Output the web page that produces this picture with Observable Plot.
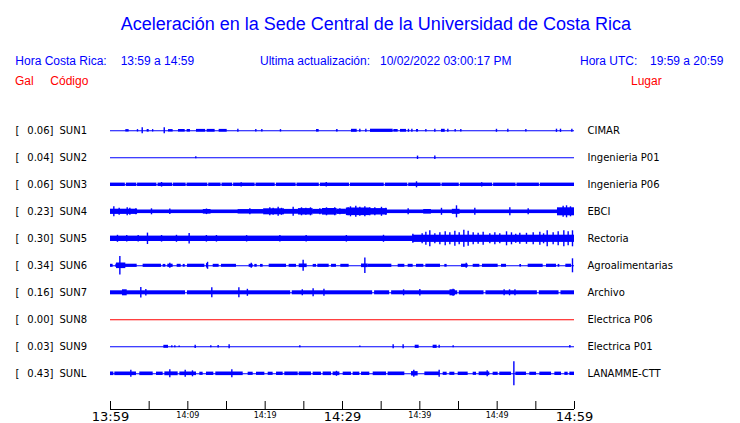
<!DOCTYPE html>
<html>
<head>
<meta charset="utf-8">
<script src="https://cdn.jsdelivr.net/npm/d3@7"></script>
<script src="https://cdn.jsdelivr.net/npm/@observablehq/plot@0.6"></script>
<style>
  body { margin: 0; background: #fff; }
  #wrap { position: relative; width: 740px; height: 423px; overflow: hidden; background: #fff; }
  #head { position: relative; width: 740px; height: 100px; font-family: "Liberation Sans", Arial, sans-serif; }
  #head span { position: absolute; white-space: pre; font-size: 12px; line-height: 12px; }
  #head .b { color: #0000ff; }
  #head .r { color: #ff0000; }
  #head #title { font-size: 18px; line-height: 18px; }
  #chart svg { display: block; }
</style>
</head>
<body>
<div id="wrap">
  <div id="head">
    <span id="title" class="b" style="left:120.7px; top:14.5px">Aceleración en la Sede Central de la Universidad de Costa Rica</span>
    <span class="b" style="left:15.3px; top:54.8px">Hora Costa Rica:</span>
    <span class="b" style="left:120.7px; top:54.8px">13:59 a 14:59</span>
    <span class="b" style="left:260px; top:54.8px">Ultima actualización:</span>
    <span class="b" style="left:380px; top:54.8px">10/02/2022 03:00:17 PM</span>
    <span class="b" style="left:580px; top:54.8px">Hora UTC:</span>
    <span class="b" style="left:650px; top:54.8px">19:59 a 20:59</span>
    <span class="r" style="left:15px; top:74.8px">Gal</span>
    <span class="r" style="left:50.3px; top:74.8px">Código</span>
    <span class="r" style="left:631px; top:74.8px">Lugar</span>
  </div>
  <div id="chart"></div>
</div>
<script>
// ---- Data ----
const stations = ["SUN1","SUN2","SUN3","SUN4","SUN5","SUN6","SUN7","SUN8","SUN9","SUNL"];
const galValues = [0.06, 0.04, 0.06, 0.23, 0.30, 0.34, 0.16, 0.00, 0.03, 0.43];
const places = ["CIMAR","Ingenieria P01","Ingenieria P06","EBCI","Rectoria","Agroalimentarias","Archivo","Electrica P06","Electrica P01","LANAMME-CTT"];
const traceColors = ["blue","blue","blue","blue","blue","blue","blue","red","blue","blue"];

// time axis (minutes after 13:59)
const tickMinutes = [0,5,10,15,20,25,30,35,40,45,50,55,60];
const labelMinutes = [0,10,20,30,40,50,60];
const tickLabels = ["13:59","14:09","14:19","14:29","14:39","14:49","14:59"];
const majorLabels = ["13:59","14:29","14:59"];

// Trace envelopes: bursts [startMinute, endMinute, halfAmplitude], spikes [minute, halfAmplitude]
const sun1Bursts = [[1.98,2.41,1.2],[4.74,5.0,1.3],[5.43,5.6,1.2],[7.5,8.1,1.2],[8.79,9.66,1.3],[9.91,10.34,1.3],[11.12,12.3,1.4],[12.5,13.53,1.4],[14.05,15.09,1.4],[26.64,26.98,1.3],[29.22,29.44,1.2],[31.16,31.9,1.5],[33.62,36.55,1.6],[36.64,37.2,1.3],[37.5,38.28,1.4],[39.57,39.83,1.3],[42.8,43.28,1.5]];
const sun1Spikes = [[3.49,1.2],[4.1,3],[6.95,3],[16.47,1.5],[18.79,1.2],[19.57,1.3],[21.98,1.2],[32.24,1.5],[33.02,1.5],[38.53,1.5],[38.97,1.5],[40.78,1.3],[41.94,1.5],[43.62,1.5],[44.57,1.2],[45.3,1.2],[49.91,1.5],[51.38,1.5],[53.71,1.2],[57.67,1.6],[58.19,1.6],[59.66,1.5]];

const sun2Bursts = [];
const sun2Spikes = [[11.03,1],[39.7,1.7],[41.94,1.7]];

const sun3Bursts = [[0,1.92,1.7],[2.05,3.4,1.7],[3.5,6.0,1.7],[6.15,8.05,1.7],[8.15,9.78,1.7],[9.9,12.58,1.7],[12.7,14.3,1.7],[14.42,15.8,1.7],[15.92,18.7,1.7],[18.82,21.3,1.7],[21.45,24.0,1.7],[24.12,27.0,1.7],[27.14,30.9,1.7],[31.02,35.4,1.7],[35.54,38.44,1.7],[38.56,42.75,1.7],[42.87,45.1,1.7],[45.24,49.42,1.7],[49.54,52.44,1.7],[52.56,55.46,1.7],[55.58,60,1.7]];
const sun3Spikes = [[39.57,3.0],[6.6,2.3],[27.9,2.2],[16.9,2.1],[48.0,2.1]];

const sun4Bursts = [[0,60,1.8],[0,3.5,2.6],[12.0,13.0,2.3],[16.5,19.8,2.2],[19.8,22.5,3.0],[22.5,24.3,2.4],[24.3,26.2,3.2],[26.2,27.4,2.4],[27.4,29.3,3.3],[29.3,30.5,2.6],[30.5,33.6,3.8],[33.6,35.8,3.2],[40.5,41.5,2.3],[44.2,45.2,2.5],[57.8,60,4.0]];
const sun4Spikes = [[0.43,5],[1.12,3.5],[2.16,4],[2.5,3.5],[3.28,3],[5.3,3],[7.67,2.8],[12.41,2.8],[18.02,3],[20.6,4],[21.03,3.5],[21.68,4.5],[22.11,3.5],[23.62,4.5],[24.7,4],[25.26,3.5],[25.86,4],[27.07,3],[27.93,4],[29.0,4],[29.66,3],[30.73,4],[31.03,5],[31.72,5.5],[32.24,4.5],[32.89,5],[33.53,4],[34.18,4],[35.04,4.5],[35.6,3.5],[38.49,3],[42.8,3.5],[44.74,6],[47.11,3.5],[51.64,4],[54.01,3],[58.53,5.5],[58.97,6],[59.48,5]];

const sun5Bursts = [[0,60,2.7],[39.1,60,3.6]];
const sun5Spikes = [[0.9,3.5],[2.1,3.3],[3.58,3.3],[4.78,5.7],[6.6,3.3],[8.53,3.5],[10.17,5.3],[12.4,3.3],[13.7,3.3],[17.6,3.2],[21.9,3.2],[25.3,3.3],[30.5,3.3],[35.3,3.5],[39.1,4.5],[40.3,5],[40.78,6.5],[41.29,8],[41.94,5],[42.59,6],[43.28,7],[43.88,6],[44.53,7.5],[45.09,6],[45.69,8.5],[46.25,7.5],[46.9,6],[47.54,5.5],[48.19,6.5],[49.05,5],[49.7,6],[50.34,5],[51.21,7],[51.85,6],[52.4,4.5],[52.93,5.5],[53.79,5.5],[54.66,6],[55.52,6.5],[56.0,5],[56.47,8],[57.24,6],[57.89,7],[58.62,8],[59.18,7],[59.74,8]];

const sun6Bursts = [[0,0.34,1.5],[0.69,3.45,1.6],[0.78,1.98,2.8],[4.22,6.59,1.6],[6.81,7.16,1.4],[7.41,8.1,1.6],[8.62,9.14,1.5],[9.4,9.66,1.4],[9.96,12.2,1.6],[12.41,12.67,2.2],[13.28,14.05,1.5],[14.35,16.29,1.5],[17.93,18.45,1.5],[18.66,18.97,1.4],[19.4,19.74,1.4],[20.52,22.76,1.6],[23.1,24.05,1.5],[24.4,25.43,1.8],[26.21,26.64,1.4],[26.81,28.28,1.6],[28.58,29.22,1.5],[29.78,30.86,1.5],[32.46,33.32,1.8],[33.32,36.38,1.6],[37.2,38.06,1.5],[38.49,39.14,1.5],[39.57,40.52,1.5],[40.78,42.67,1.6],[43.23,43.53,1.4],[45.39,46.25,1.6],[46.9,47.76,1.5],[48.1,50.13,1.6],[50.56,51.21,1.5],[52.93,53.15,1.3],[54.01,55.95,1.6],[56.38,57.67,1.6],[57.89,58.1,1.4],[58.88,59.61,1.6]];
const sun6Spikes = [[1.21,9.3],[7.67,2.5],[12.55,3.5],[18.2,2.5],[24.91,5.5],[32.89,7.7],[46.0,2.5],[59.74,7.0]];

const sun7Bursts = [[0,9.7,2.0],[9.95,23.3,2.0],[23.5,33.9,2.0],[34.15,36.1,2.0],[36.35,44.9,2.0],[45.1,48.3,2.0],[48.55,55.2,2.0],[55.45,58.0,2.0],[58.25,60,2.0],[1.55,2.16,3.0],[43.9,44.6,3.0]];
const sun7Spikes = [[3.92,5.2],[4.57,3.2],[13.1,5],[16.6,5],[17.7,3.5],[24.8,3],[26.2,4],[27.6,3.5],[37.9,3],[40.0,3.2],[44.3,3.5],[50.9,3],[51.6,3],[52.3,3]];

const sun8Bursts = [];
const sun8Spikes = [];

const sun9Bursts = [[6.9,7.5,1.5],[39.4,39.91,1.6],[41.72,42.24,1.6]];
const sun9Spikes = [[7.93,1],[8.32,1],[8.88,0.8],[10.95,1.6],[12.97,1],[13.92,1.3],[15.34,2],[24.48,1],[32.24,0.8],[36.55,2],[37.84,2],[42.5,1.5],[44.31,1],[59.4,1.3]];

const sunLBursts = [[0,0.43,1.8],[0.56,3.36,1.8],[3.79,5.52,1.8],[5.95,6.81,1.7],[7.03,8.75,1.9],[8.97,11.12,1.8],[11.55,11.98,1.6],[12.41,13.36,1.7],[13.62,17.16,1.8],[17.8,18.45,1.6],[18.88,19.96,1.6],[20.39,21.03,1.6],[21.47,22.33,1.7],[22.54,24.27,1.8],[24.4,25.99,1.8],[26.21,27.28,1.7],[27.5,28.58,1.8],[28.79,29.66,1.8],[30.09,31.16,1.7],[31.38,32.24,1.7],[32.46,33.53,1.7],[33.97,35.69,1.8],[35.9,38.06,1.8],[38.92,39.78,2.2],[40.65,42.59,1.8],[43.02,43.53,1.6],[43.88,44.53,1.6],[44.96,46.25,1.7],[46.9,47.33,1.6],[47.67,49.05,1.8],[49.48,50.13,1.6],[50.34,51.85,1.7],[52.41,53.79,1.7],[54.22,55.09,1.6],[55.52,57.03,1.7],[57.46,58.32,1.7],[58.75,59.18,1.6],[59.4,60,1.7]];
const sunLSpikes = [[2.63,3.5],[7.67,4],[9.66,3.5],[10.6,3],[15.69,4],[29.22,2.5],[39.22,3.5],[42.5,3.5],[48.71,3],[52.16,12]];

const stationBursts = [sun1Bursts, sun2Bursts, sun3Bursts, sun4Bursts, sun5Bursts, sun6Bursts, sun7Bursts, sun8Bursts, sun9Bursts, sunLBursts];
const stationSpikes = [sun1Spikes, sun2Spikes, sun3Spikes, sun4Spikes, sun5Spikes, sun6Spikes, sun7Spikes, sun8Spikes, sun9Spikes, sunLSpikes];

// ---- Build tables ----
const ROW_UNITS = 27; // amplitude units between trace baselines
const rows = stations.map((s, i) => ({station: s, base: i * ROW_UNITS, gal: galValues[i], place: places[i], color: traceColors[i]}));
const bursts = rows.flatMap((r, i) => stationBursts[i].map(([t0, t1, a]) => ({...r, t0, t1, a})));
const spikes = rows.flatMap((r, i) => stationSpikes[i].map(([t, a]) => ({...r, t, a})));
const axisLabelRows = labelMinutes.map((m, i) => ({m, label: tickLabels[i], major: majorLabels.includes(tickLabels[i])}));

const font = "DejaVu Sans";
const chart = Plot.plot({
  width: 740,
  height: 323,
  marginLeft: 110,
  marginRight: 166,
  marginTop: 16.8,
  marginBottom: 14,
  x: {domain: [0, 60], axis: null},
  y: {domain: [-0.5 * ROW_UNITS, 10.322 * ROW_UNITS], reverse: true, axis: null},
  style: {background: "white", overflow: "visible"},
  marks: [
    Plot.ruleY(rows, {y: "base", stroke: "color", strokeWidth: 1.1}),
    Plot.rect(bursts, {x1: "t0", x2: "t1", y1: d => d.base - d.a, y2: d => d.base + d.a, fill: "color"}),
    Plot.ruleX(spikes, {x: "t", y1: d => d.base - d.a, y2: d => d.base + d.a, stroke: "color", strokeWidth: 1.4}),
    // left labels
    Plot.text(rows, {y: "base", text: () => "[", frameAnchor: "left", dx: -95, textAnchor: "start", fontFamily: font, fontSize: 10, fill: "black"}),
    Plot.text(rows, {y: "base", text: d => d.gal.toFixed(2) + "]", frameAnchor: "left", dx: -57, textAnchor: "end", fontFamily: font, fontSize: 10, fill: "black"}),
    Plot.text(rows, {y: "base", text: "station", frameAnchor: "left", dx: -51, textAnchor: "start", fontFamily: font, fontSize: 10, fill: "black"}),
    // right labels
    Plot.text(rows, {y: "base", text: "place", frameAnchor: "right", dx: 13, textAnchor: "start", fontFamily: font, fontSize: 10, fill: "black"}),
    // time axis
    Plot.ruleY([10.322 * ROW_UNITS], {stroke: "black", strokeWidth: 1}),
    Plot.tickX(tickMinutes, {x: d => d, insetTop: 292.2 - 8, stroke: "black", strokeWidth: 1}),
    Plot.text(axisLabelRows.filter(d => d.major),
      {x: "m", text: "label", frameAnchor: "bottom", lineAnchor: "middle", dy: 7, fontFamily: font, fontSize: 13, fill: "black"}),
    Plot.text(axisLabelRows.filter(d => !d.major),
      {x: "m", text: "label", frameAnchor: "bottom", lineAnchor: "middle", dy: 6, fontFamily: font, fontSize: 8, fill: "black"})
  ]
});
document.getElementById("chart").appendChild(chart);
</script>
</body>
</html>
